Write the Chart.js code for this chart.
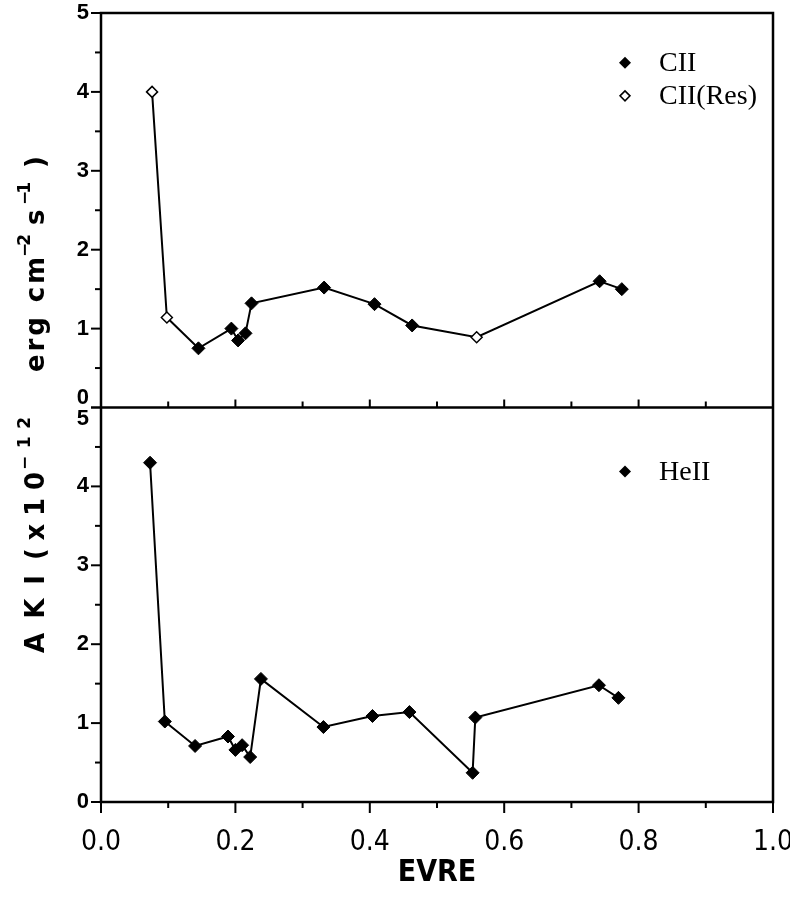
<!DOCTYPE html>
<html><head><meta charset="utf-8">
<script src="https://cdn.jsdelivr.net/npm/chart.js@4.4.1/dist/chart.umd.min.js"></script>
<style>html,body{margin:0;padding:0;background:#fff;}#wrap{width:790px;height:899px;position:relative;}</style>
</head><body><div id="wrap"><canvas id="c" width="790" height="899"></canvas></div>
<script>
// ---- data ----
const ciiX = [0.145, 0.194, 0.204, 0.215, 0.224, 0.332, 0.407, 0.463, 0.742, 0.775];
const ciiY = [0.75, 1.00, 0.85, 0.94, 1.32, 1.52, 1.31, 1.04, 1.60, 1.50];
const ciiResX = [0.076, 0.098, 0.559];
const ciiResY = [4.00, 1.14, 0.89];
const heiiX = [0.073, 0.095, 0.140, 0.189, 0.200, 0.210, 0.222, 0.238, 0.331, 0.404, 0.459, 0.553, 0.557, 0.741, 0.770];
const heiiY = [4.30, 1.02, 0.71, 0.83, 0.66, 0.72, 0.57, 1.56, 0.95, 1.09, 1.14, 0.37, 1.07, 1.48, 1.32];
const xTickValues = [0.0, 0.2, 0.4, 0.6, 0.8, 1.0];
const xTickLabels = ['0.0', '0.2', '0.4', '0.6', '0.8', '1.0'];
const yTickValues = [0, 1, 2, 3, 4, 5];
const yTickLabels = ['0', '1', '2', '3', '4', '5'];
const seriesNames = ['CII', 'CII(Res)', 'HeII'];
const xTitle = 'EVRE';
const yTitleParts = ['A K I', '(x10', '\u221212', 'erg cm', '\u22122', 's', '\u22121', ')'];
const yTitleSup = [false, false, true, false, true, false, true, false];

const toPts = (xs, ys) => xs.map((x, i) => ({x: x, y: ys[i]}));
const topLine = toPts(ciiX, ciiY).concat(toPts(ciiResX, ciiResY)).sort((a, b) => a.x - b.x);

const yTickFont = {family: "'Liberation Sans', Arial, sans-serif", size: 22, weight: 'bold'};

// layout of the rotated y title: [bottom, top] screen y span of each part
const titleSpans = [[653, 575], [560, 472], [470, 417], [372, 257], [257, 241], [225, 212], [205, 182], [168, 158]];

const framePlugin = {
  id: 'frame',
  afterDatasetsDraw(chart) {
    const ctx = chart.ctx;
    const ca = chart.chartArea;
    const xs = chart.scales.x, yt = chart.scales.yTop, yb = chart.scales.yBot;
    ctx.save();
    ctx.strokeStyle = '#000';
    ctx.lineWidth = 2.5;
    ctx.strokeRect(ca.left, ca.top, ca.right - ca.left, ca.bottom - ca.top);
    const mid = yt.getPixelForValue(0);
    ctx.beginPath(); ctx.moveTo(ca.left, mid); ctx.lineTo(ca.right, mid); ctx.stroke();
    ctx.lineWidth = 2;
    for (let k = 0; k <= 10; k++) {
      const v = k / 10;
      const px = xs.getPixelForValue(v);
      const major = k % 2 === 0;
      ctx.beginPath();
      ctx.moveTo(px, ca.bottom - (k === 0 ? 6 : 0)); ctx.lineTo(px, ca.bottom + (major ? 11 : 6));
      if (k > 0 && k < 10) { ctx.moveTo(px, mid); ctx.lineTo(px, mid - (major ? 8 : 6)); }
      ctx.stroke();
    }
    [yt, yb].forEach(s => {
      for (let k = 0; k <= 10; k++) {
        const py = s.getPixelForValue(k / 2);
        const len = (k % 2 === 0) ? 10 : 6;
        ctx.beginPath(); ctx.moveTo(ca.left - len, py); ctx.lineTo(ca.left, py); ctx.stroke();
      }
    });
    // labels at the junction of the two panels
    ctx.fillStyle = '#000';
    ctx.font = `${yTickFont.weight} ${yTickFont.size}px ${yTickFont.family}`;
    ctx.textAlign = 'right'; ctx.textBaseline = 'middle';
    ctx.fillText(yTickLabels[0], ca.left - 12, yt.getPixelForValue(0) - 10);
    ctx.fillText(yTickLabels[5], ca.left - 12, yb.getPixelForValue(5) + 11);

    // rotated y title
    ctx.save();
    const cy = 412;
    ctx.translate(44, cy);
    ctx.rotate(-Math.PI / 2);
    ctx.textAlign = 'left'; ctx.textBaseline = 'alphabetic';
    const mainFont = "bold 26px 'DejaVu Sans', sans-serif";
    const supFont = "bold 17px 'DejaVu Sans', sans-serif";
    yTitleParts.forEach((t, i) => {
      const sup = yTitleSup[i];
      ctx.font = sup ? supFont : mainFont;
      ctx.letterSpacing = '0px';
      const [b, tp] = titleSpans[i];
      const span = b - tp;
      const w = ctx.measureText(t).width;
      let ls = t.length > 1 ? (span - w) / (t.length - 1) : 0;
      if (ls < -3) ls = -3;
      ctx.letterSpacing = ls.toFixed(2) + 'px';
      ctx.fillText(t, cy - b, sup ? -14 : 0);
    });
    ctx.restore();

    // legends
    ctx.letterSpacing = '0px';
    ctx.font = "28px 'Liberation Serif', 'DejaVu Serif', serif";
    ctx.textAlign = 'left'; ctx.textBaseline = 'middle';
    const mx = ca.right - 148, tx = ca.right - 114;
    const diamond = (cx, cyy, r, fill) => {
      ctx.beginPath();
      ctx.moveTo(cx, cyy - r); ctx.lineTo(cx + r, cyy); ctx.lineTo(cx, cyy + r); ctx.lineTo(cx - r, cyy); ctx.closePath();
      if (fill) { ctx.fillStyle = '#000'; ctx.fill(); }
      else { ctx.fillStyle = '#fff'; ctx.fill(); ctx.lineWidth = 1.5; ctx.strokeStyle = '#000'; ctx.stroke(); }
    };
    const l1 = yt.getPixelForValue(4.37), l2 = yt.getPixelForValue(3.95), l3 = yb.getPixelForValue(4.19);
    diamond(mx, l1, 6, true);
    diamond(mx, l2, 5, false);
    diamond(mx, l3, 6, true);
    ctx.fillStyle = '#000';
    ctx.fillText(seriesNames[0], tx, l1 + 1);
    ctx.fillText(seriesNames[1], tx, l2 + 1);
    ctx.fillText(seriesNames[2], tx, l3 + 1);
    ctx.restore();
  }
};

const yScale = (hideVal, weight) => ({
  type: 'linear', position: 'left', stack: 'panels', stackWeight: 1, weight: weight,
  min: 0, max: 5,
  afterFit: s => { s.width = 101; s.paddingTop = 0; s.paddingBottom = 0; },
  afterBuildTicks: s => { s.ticks = yTickValues.map(v => ({value: v})); },
  ticks: {
    color: '#000', font: yTickFont, padding: 12,
    callback: v => { if (v === hideVal) return ''; const i = yTickValues.indexOf(v); return i >= 0 ? yTickLabels[i] : ''; }
  },
  grid: {display: false, drawTicks: false},
  border: {display: false}
});

const ptStyle = {pointStyle: 'rectRot', pointRadius: 6.5, pointBorderWidth: 1, pointBackgroundColor: '#000', pointBorderColor: '#000'};

new Chart(document.getElementById('c'), {
  type: 'scatter',
  data: {
    datasets: [
      {label: 'line', data: topLine, showLine: true, borderColor: '#000', borderWidth: 2, pointRadius: 0, yAxisID: 'yTop', order: 3},
      Object.assign({label: seriesNames[0], data: toPts(ciiX, ciiY), yAxisID: 'yTop', order: 1}, ptStyle),
      {label: seriesNames[1], data: toPts(ciiResX, ciiResY), pointStyle: 'rectRot', pointRadius: 5.5, pointBackgroundColor: '#fff', pointBorderColor: '#000', pointBorderWidth: 1.5, yAxisID: 'yTop', order: 1},
      Object.assign({label: seriesNames[2], data: toPts(heiiX, heiiY), showLine: true, borderColor: '#000', borderWidth: 2, yAxisID: 'yBot', order: 1}, ptStyle)
    ]
  },
  options: {
    responsive: false, devicePixelRatio: 1, animation: false,
    layout: {padding: {top: 13, right: 17, bottom: 0, left: 0}},
    plugins: {legend: {display: false}, tooltip: {enabled: false}},
    scales: {
      x: {
        type: 'linear', position: 'bottom', min: 0, max: 1,
        afterFit: s => { s.height = 97; s.paddingLeft = 0; s.paddingRight = 0; },
        afterBuildTicks: s => { s.ticks = xTickValues.map(v => ({value: v})); },
        ticks: {
          color: '#000', padding: 24, maxRotation: 0, autoSkip: false,
          font: {family: "'DejaVu Sans Condensed', sans-serif", size: 28},
          callback: v => { const i = xTickValues.findIndex(t => Math.abs(t - v) < 1e-6); return i >= 0 ? xTickLabels[i] : ''; }
        },
        grid: {display: false, drawTicks: false},
        border: {display: false},
        title: {display: true, text: xTitle, color: '#000', padding: {top: 0, bottom: 8},
          font: {family: "'DejaVu Sans Condensed', sans-serif", size: 30, weight: 'bold'}}
      },
      yTop: yScale(0, 2),
      yBot: yScale(5, 1)
    }
  },
  plugins: [framePlugin]
});
</script>
</body></html>
